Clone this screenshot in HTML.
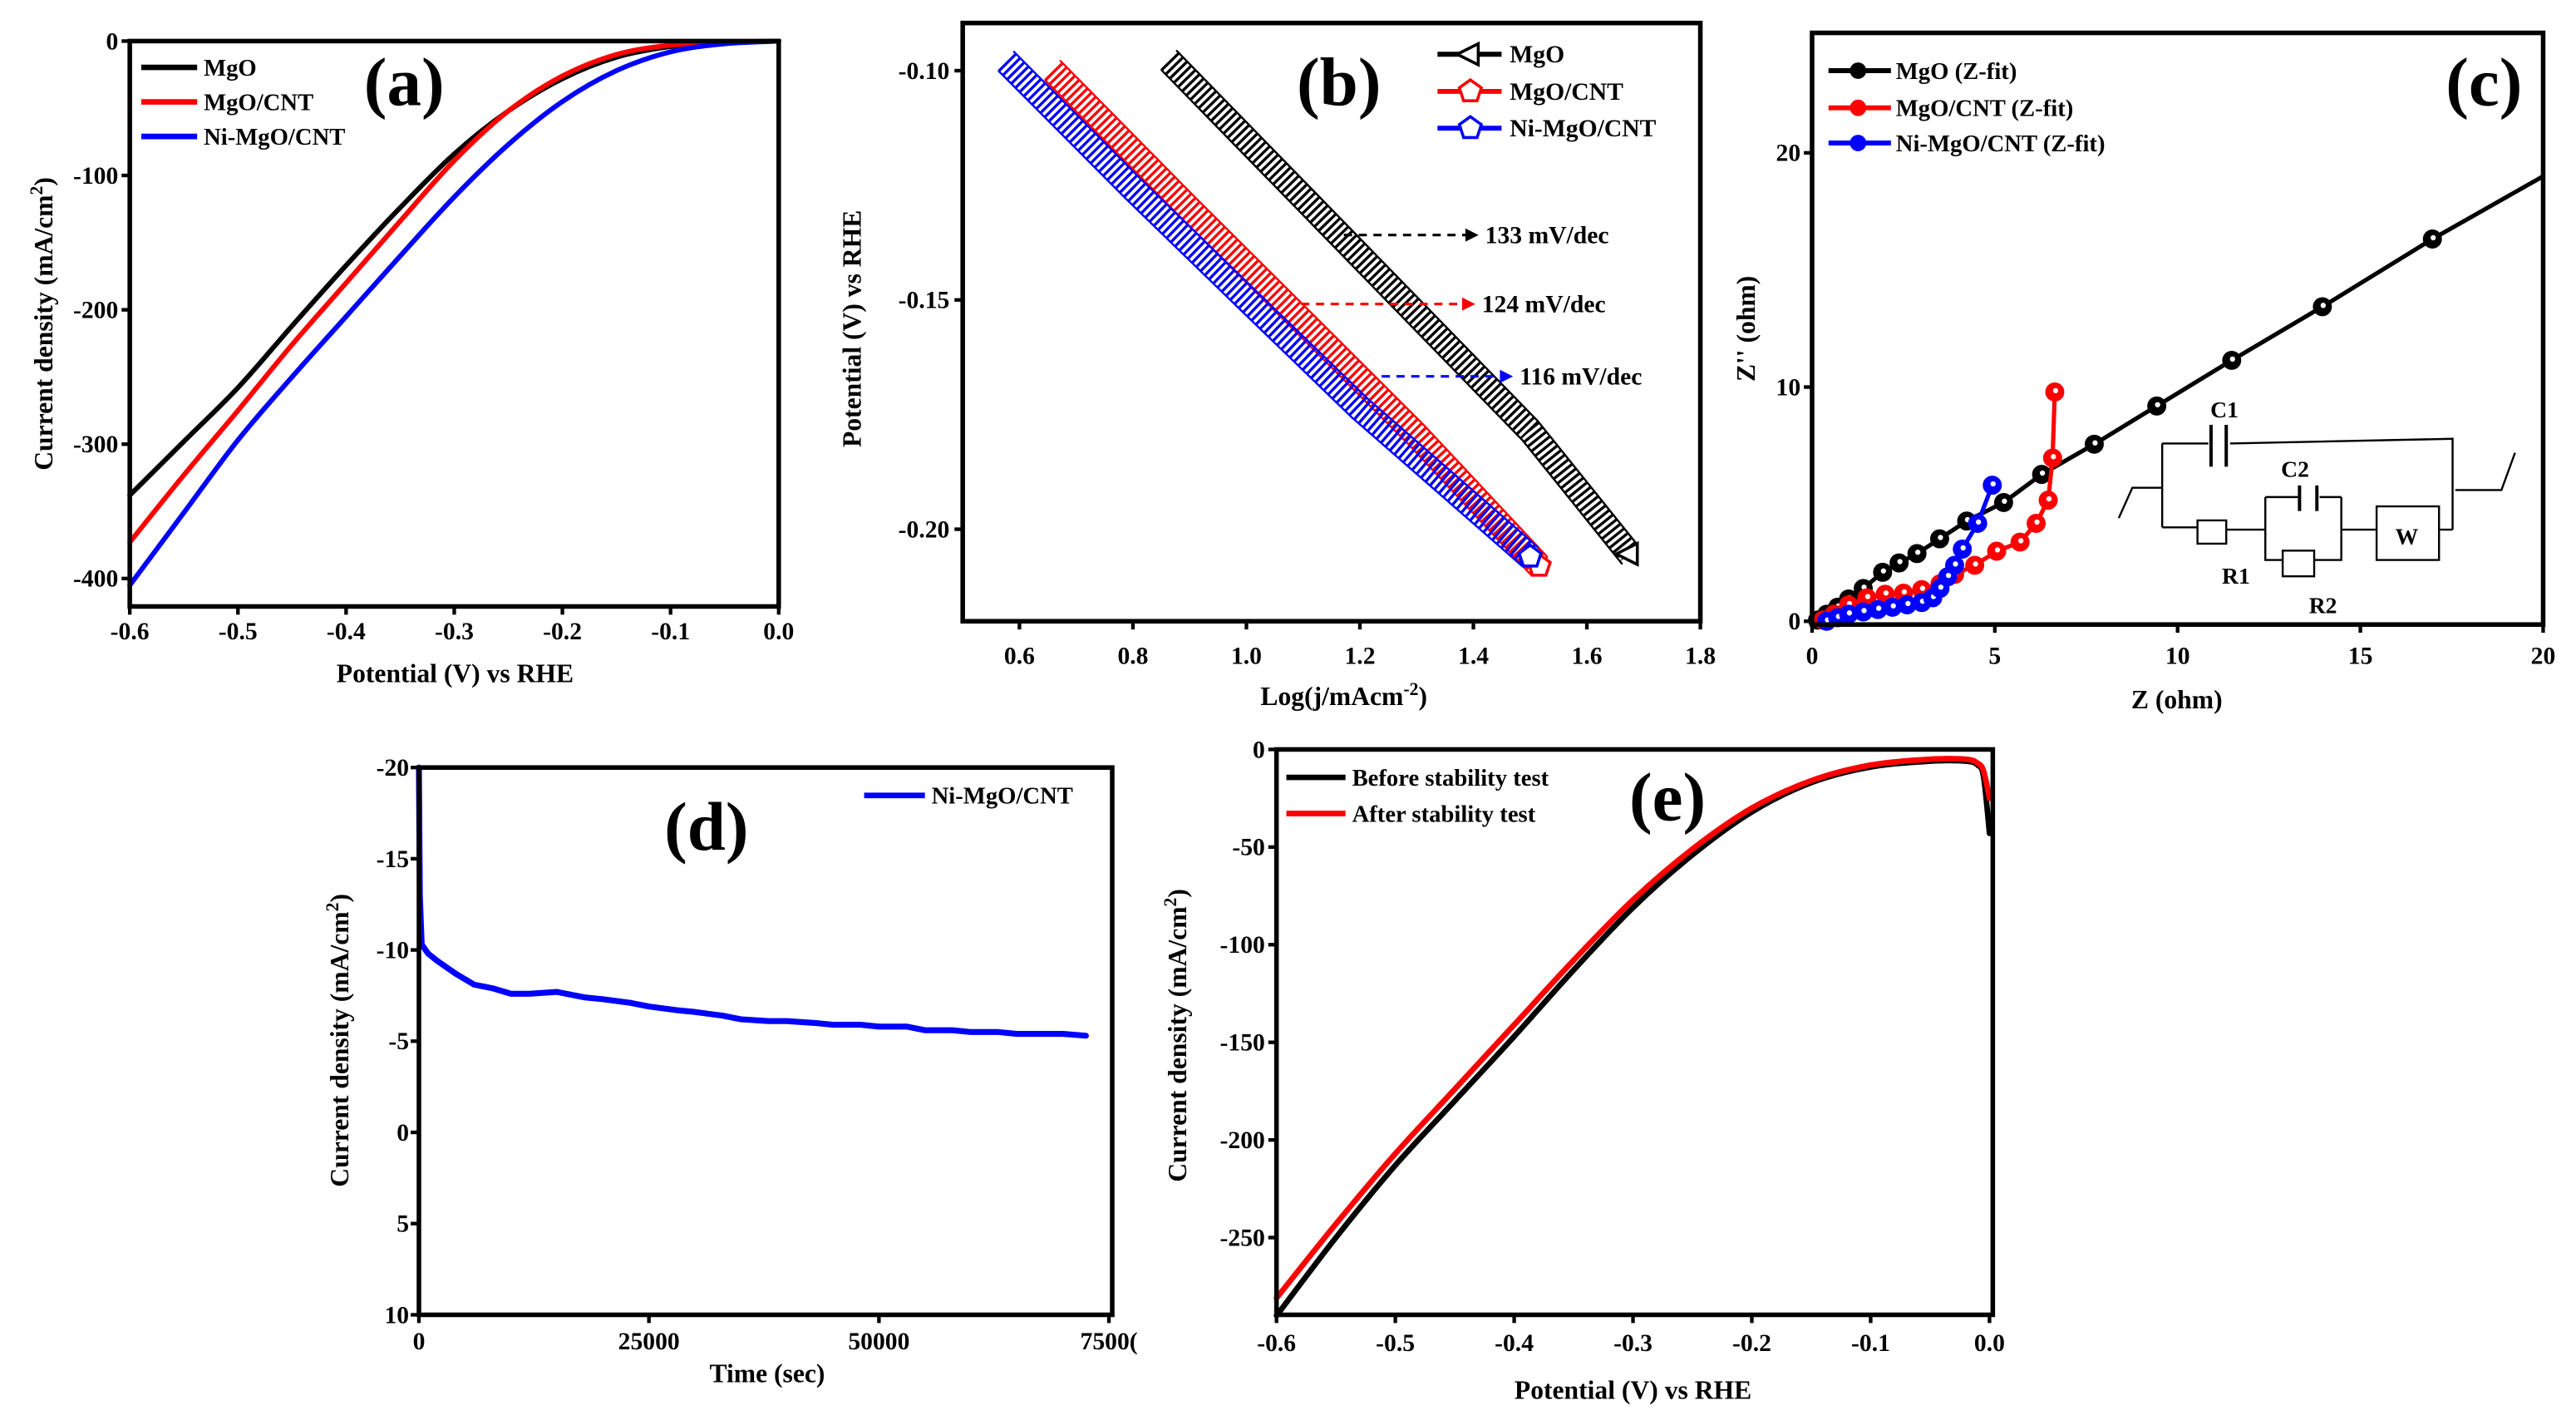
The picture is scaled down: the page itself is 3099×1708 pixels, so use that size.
<!DOCTYPE html>
<html><head><meta charset="utf-8"><title>Electrochemical panels</title>
<style>
html,body{margin:0;padding:0;background:#fff;}
svg{display:block;}
text{font-family:"Liberation Serif",serif;font-weight:bold;fill:#000;}
</style></head>
<body>
<svg id="fig" xmlns="http://www.w3.org/2000/svg" width="3099" height="1708" viewBox="0 0 1568 864" preserveAspectRatio="none"></svg>
<script>
// ---------- DATA ----------
const aPot = [-0.6,-0.55,-0.5,-0.45,-0.4,-0.35,-0.3,-0.25,-0.2,-0.15,-0.1,-0.05,0];
const aMgO = [-338,-298,-258,-212,-167,-124,-84,-52,-28,-12,-4,-1,0];
const aMgOCNT = [-373,-323,-275,-226,-180,-134,-89,-52,-26,-10,-3,-1,0];
const aNi = [-405,-351,-297,-250,-205,-160,-116,-77,-45,-22,-8,-2,0];
const aXTicks = [-0.6,-0.5,-0.4,-0.3,-0.2,-0.1,0.0];
const aYTicks = [0,-100,-200,-300,-400];
const bMgOX = [0.864,1.1,1.3,1.5,1.675];
const bMgOY = [-0.0978,-0.1277,-0.1531,-0.1785,-0.2054];
const bCNTX = [0.659,0.9,1.1,1.3,1.516];
const bCNTY = [-0.100,-0.1302,-0.1548,-0.1795,-0.208];
const bNiX = [0.577,0.8,1.0,1.2,1.50];
const bNiY = [-0.098,-0.1257,-0.1497,-0.1736,-0.206];
const bXTicks = [0.6,0.8,1.0,1.2,1.4,1.6,1.8];
const bYTicks = [-0.10,-0.15,-0.20];
const bSlopes = ["133 mV/dec","124 mV/dec","116 mV/dec"];
const cMgOX = [0.15,0.4,0.7,1.0,1.4,1.93,2.38,2.87,3.49,4.23,5.24,6.28,7.72,9.43,11.48,13.96,16.97,20];
const cMgOY = [0.05,0.3,0.6,0.95,1.4,2.09,2.49,2.89,3.52,4.28,5.07,6.27,7.56,9.19,11.14,13.43,16.32,19.0];
const cCNTX = [0.3,0.6,1.0,1.5,2.0,2.5,3.0,3.5,3.9,4.45,5.05,5.69,6.13,6.46,6.58,6.64];
const cCNTY = [0.05,0.3,0.7,1.0,1.15,1.2,1.35,1.6,2.0,2.39,2.99,3.38,4.18,5.17,6.97,9.79];
const cNiX = [0.4,0.7,1.0,1.4,1.8,2.2,2.6,3.0,3.3,3.5,3.71,3.9,4.11,4.53,4.93];
const cNiY = [0.0,0.15,0.3,0.4,0.5,0.6,0.7,0.8,1.0,1.4,1.9,2.39,3.08,4.18,5.81];
const cXTicks = [0,5,10,15,20];
const cYTicks = [0,10,20];
const dTime = [0,100,300,1000,2000,4000,6000,8000,10000,12000,15000,18000,20000,23000,25000,28000,30000,33000,35000,38000,40000,43000,45000,48000,50000,53000,55000,58000,60000,63000,65000,68000,70000,72500];
const dJ = [-20,-13,-10.3,-9.8,-9.4,-8.7,-8.1,-7.9,-7.6,-7.6,-7.7,-7.4,-7.3,-7.1,-6.9,-6.7,-6.6,-6.4,-6.2,-6.1,-6.1,-6.0,-5.9,-5.9,-5.8,-5.8,-5.6,-5.6,-5.5,-5.5,-5.4,-5.4,-5.4,-5.3];
const dXTicks = [0,25000,50000,75000];
const dXLabels = ["0","25000","50000","7500("];
const dYTicks = [-20,-15,-10,-5,0,5,10];
const ePot = [-0.6,-0.55,-0.5,-0.45,-0.4,-0.35,-0.3,-0.25,-0.2,-0.15,-0.1,-0.05,-0.02,-0.01,-0.005,0];
const eBefore = [-290,-250,-213,-180,-147,-113,-81,-54,-32,-17,-9,-6,-6,-8,-14,-43];
const eAfter = [-281,-243,-207,-174,-141,-108,-77,-51,-30,-16,-8,-5,-5,-7,-11,-25];
const eXTicks = [-0.6,-0.5,-0.4,-0.3,-0.2,-0.1,0.0];
const eYTicks = [0,-50,-100,-150,-200,-250];

// ---------- HELPERS ----------
const NS = "http://www.w3.org/2000/svg";
const svg = document.getElementById('fig');
function mk(tag, attrs, parent){
  const el = document.createElementNS(NS, tag);
  for (const k in attrs) el.setAttribute(k, attrs[k]);
  (parent||svg).appendChild(el);
  return el;
}
function lin(d0,d1,r0,r1){ return v => r0 + (v-d0)/(d1-d0)*(r1-r0); }
function txt(parent,x,y,str,size,anchor,name,rot){
  const el = mk('text',{x:x,y:y,'font-size':size,'text-anchor':anchor||'middle'},parent);
  el.textContent = str;
  if (rot) el.setAttribute('transform','rotate(-90 '+x+' '+y+')');
  
  
  return el;
}
function frame(g,x0,y0,x1,y1,name){
  const r = mk('rect',{x:x0,y:y0,width:x1-x0,height:y1-y0,fill:'none',stroke:'#000','stroke-width':2.8},g);
  
  
}
function xticks(g,ticks,labels,sx,y,labY,name){
  ticks.forEach((t,i)=>{
    const l = mk('line',{x1:sx(t),x2:sx(t),y1:y,y2:y+5,stroke:'#000','stroke-width':2.2},g);
    
    
    txt(g,sx(t),labY,labels[i],15,'middle',name+'-label');
  });
}
function yticks(g,ticks,labels,sy,x,labX,name){
  ticks.forEach((t,i)=>{
    const l = mk('line',{x1:x-5,x2:x,y1:sy(t),y2:sy(t),stroke:'#000','stroke-width':2.2},g);
    
    
    txt(g,labX,sy(t)+5,labels[i],15,'end',name+'-label');
  });
}
function smoothD(P){
  let d = 'M'+P[0][0].toFixed(2)+','+P[0][1].toFixed(2);
  for(let i=0;i<P.length-1;i++){
    const p0=P[Math.max(0,i-1)],p1=P[i],p2=P[i+1],p3=P[Math.min(P.length-1,i+2)];
    const c1=[p1[0]+(p2[0]-p0[0])/6,p1[1]+(p2[1]-p0[1])/6];
    const c2=[p2[0]-(p3[0]-p1[0])/6,p2[1]-(p3[1]-p1[1])/6];
    d+=' C'+c1[0].toFixed(2)+','+c1[1].toFixed(2)+' '+c2[0].toFixed(2)+','+c2[1].toFixed(2)+' '+p2[0].toFixed(2)+','+p2[1].toFixed(2);
  }
  return d;
}
function poly(g,xs,ys,sx,sy,color,w,name,smooth){
  let p;
  if (smooth){
    const P = xs.map((x,i)=>[sx(x),sy(ys[i])]);
    p = mk('path',{d:smoothD(P),fill:'none',stroke:color,'stroke-width':w,'stroke-linejoin':'round','stroke-linecap':'round'},g);
  } else {
    const pts = xs.map((x,i)=>sx(x).toFixed(2)+','+sy(ys[i]).toFixed(2)).join(' ');
    p = mk('polyline',{points:pts,fill:'none',stroke:color,'stroke-width':w,'stroke-linejoin':'round','stroke-linecap':'round'},g);
  }
  
  
  return p;
}
function legLine(g,x0,x1,y,color,label,name){
  const l = mk('line',{x1:x0,x2:x1,y1:y,y2:y,stroke:color,'stroke-width':3.4},g);
  
  
  txt(g,x1+4,y+5,label,14.5,'start',name+'-text');
}
function fmt1(v){ return v===0 ? '0.0' : v.toFixed(1); }
function ylabelCD(g,x,y,name){
  const t = mk('text',{x:x,y:y,'font-size':16,'text-anchor':'middle',transform:'rotate(-90 '+x+' '+y+')'},g);
  
  
  t.appendChild(document.createTextNode('Current density (mA/cm'));
  const s = mk('tspan',{'font-size':11,'baseline-shift':'super'},t);
  s.textContent='2';
  t.appendChild(document.createTextNode(')'));
}

// ---------- PANEL A ----------
(function(){
  const g = mk('g',{});
  
  
  const sx = lin(-0.6,0,79,474), sy = lin(0,-400,25,352);
  poly(g,aPot,aMgO,sx,sy,'#000',3,'curve-mgo',true);
  poly(g,aPot,aMgOCNT,sx,sy,'#f00',3,'curve-mgo-cnt',true);
  poly(g,aPot,aNi,sx,sy,'#00f',3,'curve-ni-mgo-cnt',true);
  frame(g,79,25,474,369,'plot-frame-a');
  xticks(g,aXTicks,aXTicks.map(fmt1),sx,369,389,'x-tick-a');
  yticks(g,aYTicks,aYTicks.map(String),sy,79,72,'y-tick-a');
  txt(g,277,415,'Potential (V) vs RHE',16,'middle','x-axis-title-a');
  ylabelCD(g,32,197,'y-axis-title-a');
  legLine(g,86,120,41,'#000','MgO','legend-mgo');
  legLine(g,86,120,62,'#f00','MgO/CNT','legend-mgo-cnt');
  legLine(g,86,120,83,'#00f','Ni-MgO/CNT','legend-ni-mgo-cnt');
  txt(g,246,64,'(a)',42,'middle','panel-label-a');
})();

// ---------- PANEL B ----------
(function(){
  const g = mk('g',{});
  
  
  const sx = lin(0.5,1.8,586,1035), sy = lin(-0.10,-0.20,43,322);
  function band(xs,ys,color,name){
    const p = poly(g,xs,ys,sx,sy,color,15,name,false);
    p.setAttribute('stroke-dasharray','1.7 1.9');
    p.setAttribute('stroke-linecap','butt');
    const e1 = poly(g,xs,ys,sx,sy,color,1.2,name+'-edge',false);
    e1.setAttribute('transform','translate(4.6,-5.9)');
    const e2 = poly(g,xs,ys,sx,sy,color,1.2,name+'-edge2',false);
    e2.setAttribute('transform','translate(-4.6,5.9)');
  }
  band(bMgOX,bMgOY,'#000','tafel-mgo');
  band(bCNTX,bCNTY,'#f00','tafel-mgo-cnt');
  band(bNiX,bNiY,'#00f','tafel-ni-mgo-cnt');
  function pent(cx,cy,r,color,name){
    let pts=[];
    for(let k=0;k<5;k++){const a=-Math.PI/2+k*2*Math.PI/5;pts.push((cx+r*Math.cos(a)).toFixed(1)+','+(cy+r*Math.sin(a)).toFixed(1));}
    const p = mk('polygon',{points:pts.join(' '),fill:'#fff',stroke:color,'stroke-width':1.8},g);
    
    
  }
  function tri(cx,cy,r,color,name){
    const p = mk('polygon',{points:(cx-r)+','+cy+' '+(cx+r*0.6)+','+(cy-r*0.8)+' '+(cx+r*0.6)+','+(cy+r*0.8),fill:'#fff',stroke:color,'stroke-width':1.8},g);
    
    
  }
  tri(sx(bMgOX[bMgOX.length-1]),sy(bMgOY[bMgOY.length-1]),8,'#000','end-marker-mgo');
  pent(sx(bCNTX[bCNTX.length-1]),sy(bCNTY[bCNTY.length-1]),7,'#f00','end-marker-mgo-cnt');
  pent(sx(bNiX[bNiX.length-1]),sy(bNiY[bNiY.length-1]),7,'#00f','end-marker-ni-mgo-cnt');
  frame(g,586,14,1035,378,'plot-frame-b');
  xticks(g,bXTicks,bXTicks.map(fmt1),sx,378,404,'x-tick-b');
  yticks(g,bYTicks,bYTicks.map(v=>v.toFixed(2)),sy,586,578,'y-tick-b');
  const xt = mk('text',{x:818,y:429,'font-size':16,'text-anchor':'middle'},g);
  
  
  xt.appendChild(document.createTextNode('Log(j/mAcm'));
  const sp = mk('tspan',{'font-size':11,'baseline-shift':'super'},xt); sp.textContent='-2';
  xt.appendChild(document.createTextNode(')'));
  txt(g,524,200,'Potential (V) vs RHE',16,'middle','y-axis-title-b',true);
  const arrows = [[818,900,143,'#000'],[792,898,185,'#f00'],[841,921,229,'#00f']];
  arrows.forEach((a,i)=>{
    const l = mk('line',{x1:a[0],x2:a[1]-6,y1:a[2],y2:a[2],stroke:a[3],'stroke-width':1.6,'stroke-dasharray':'5 4'},g);
    
    
    const h = mk('polygon',{points:(a[1])+','+a[2]+' '+(a[1]-8)+','+(a[2]-4)+' '+(a[1]-8)+','+(a[2]+4),fill:a[3]},g);
    
    
    txt(g,a[1]+4,a[2]+5,bSlopes[i],15,'start','slope-label');
  });
  const ly=[33,55.6,78], lc=['#000','#f00','#00f'], lt=['MgO','MgO/CNT','Ni-MgO/CNT'];
  ly.forEach((y,i)=>{
    const l = mk('line',{x1:875,x2:914,y1:y,y2:y,stroke:lc[i],'stroke-width':3},g);
    
    
    if(i===0) tri(895,y,8,lc[i],'legend-marker-b'); else pent(895,y,7,lc[i],'legend-marker-b');
    txt(g,919,y+5,lt[i],15,'start','legend-text-b');
  });
  txt(g,815,64,'(b)',42,'middle','panel-label-b');
})();

// ---------- PANEL C ----------
(function(){
  const g = mk('g',{});
  
  
  const sx = lin(0,20,1103,1548), sy = lin(0,20,378,93);
  function series(xs,ys,color,name,skipLast){
    poly(g,xs,ys,sx,sy,color,2.6,name+'-line',false);
    xs.forEach((x,i)=>{
      if(skipLast && i===xs.length-1) return;
      const c = mk('circle',{cx:sx(x),cy:sy(ys[i]),r:5.3,fill:color,stroke:color,'stroke-width':1},g);
      
      
      const w = mk('circle',{cx:sx(x)+0.5,cy:sy(ys[i])-0.8,r:1.6,fill:'#fff'},g);
      
      
    });
  }
  series(cMgOX,cMgOY,'#000','nyquist-mgo',true);
  series(cCNTX,cCNTY,'#f00','nyquist-mgo-cnt',false);
  series(cNiX,cNiY,'#00f','nyquist-ni-mgo-cnt',false);
  frame(g,1103,20,1548,380,'plot-frame-c');
  xticks(g,cXTicks,cXTicks.map(String),sx,380,404,'x-tick-c');
  yticks(g,cYTicks,cYTicks.map(String),sy,1103,1096,'y-tick-c');
  txt(g,1325,431,'Z (ohm)',16,'middle','x-axis-title-c');
  txt(g,1068,200,"Z'' (ohm)",16,'middle','y-axis-title-c',true);
  const ly=[43,65.6,87], lc=['#000','#f00','#00f'], lt=['MgO (Z-fit)','MgO/CNT (Z-fit)','Ni-MgO/CNT (Z-fit)'];
  ly.forEach((y,i)=>{
    const l = mk('line',{x1:1113,x2:1151,y1:y,y2:y,stroke:lc[i],'stroke-width':3},g);
    
    
    const c = mk('circle',{cx:1131,cy:y,r:5,fill:lc[i]},g);
    
    
    txt(g,1154,y+5,lt[i],14.5,'start','legend-text-c');
  });
  txt(g,1512,64,'(c)',42,'middle','panel-label-c');
  const cg = mk('g',{transform:'translate(1051.8,0.4) scale(0.3304,0.2836)'},g);
  
  
  const wires = [
    'M720,1110 L745,1045 L800,1045','M800,950 L800,1130','M800,950 L885,950','M925,950 L1335,940 L1335,1135',
    'M800,1130 L865,1130','M918,1135 L990,1135','M990,1065 L1050,1065','M1090,1065 L1130,1065',
    'M990,1065 L990,1200 L1022,1200','M1080,1200 L1130,1200 L1130,1065','M1130,1135 L1195,1135',
    'M1310,1135 L1335,1135','M1340,1050 L1425,1050 L1450,970'
  ];
  wires.forEach(d=>{
    const p = mk('path',{d:d,fill:'none',stroke:'#000','stroke-width':2.4,'vector-effect':'non-scaling-stroke'},cg);
    
    
  });
  const plates = [[890,910,1000],[918,910,1000],[1053,1040,1095],[1085,1040,1095]];
  plates.forEach(pl=>{
    const p = mk('line',{x1:pl[0],x2:pl[0],y1:pl[1],y2:pl[2],stroke:'#000','stroke-width':4,'vector-effect':'non-scaling-stroke'},cg);
    
    
  });
  const boxes = [[865,1115,53,50],[1022,1180,58,55],[1195,1085,115,115]];
  boxes.forEach(b=>{
    const r = mk('rect',{x:b[0],y:b[1],width:b[2],height:b[3],fill:'#fff',stroke:'#000','stroke-width':2.4,'vector-effect':'non-scaling-stroke'},cg);
    
    
  });
  txt(g,1354,254,'C1',14,'middle','circuit-label-c1');
  txt(g,1397,290,'C2',14,'middle','circuit-label-c2');
  txt(g,1361,355,'R1',14,'middle','circuit-label-r1');
  txt(g,1414,373,'R2',14,'middle','circuit-label-r2');
  txt(g,1465,331,'W',14,'middle','circuit-label-w');
})();

// ---------- PANEL D ----------
(function(){
  const g = mk('g',{});
  
  
  const sx = lin(0,75000,255,675), sy = lin(-20,10,467,800);
  poly(g,dTime,dJ,sx,sy,'#00f',3.6,'curve-stability-ni-mgo-cnt',false);
  frame(g,255,467,677,800,'plot-frame-d');
  xticks(g,dXTicks,dXLabels,sx,800,821,'x-tick-d');
  yticks(g,dYTicks,dYTicks.map(String),sy,255,249,'y-tick-d');
  txt(g,467,841,'Time (sec)',16,'middle','x-axis-title-d');
  ylabelCD(g,212,633,'y-axis-title-d');
  legLine(g,526,563,484,'#00f','Ni-MgO/CNT','legend-d');
  txt(g,430,517,'(d)',42,'middle','panel-label-d');
})();

// ---------- PANEL E ----------
(function(){
  const g = mk('g',{});
  
  
  const sx = lin(-0.6,0,777,1211), sy = lin(0,-250,456,753);
  poly(g,ePot,eBefore,sx,sy,'#000',3.4,'curve-before-stability',true);
  poly(g,ePot,eAfter,sx,sy,'#f00',3.4,'curve-after-stability',true);
  frame(g,777,456,1213,800,'plot-frame-e');
  xticks(g,eXTicks,eXTicks.map(fmt1),sx,800,822,'x-tick-e');
  yticks(g,eYTicks,eYTicks.map(String),sy,777,770,'y-tick-e');
  txt(g,994,851,'Potential (V) vs RHE',16,'middle','x-axis-title-e');
  ylabelCD(g,722,630,'y-axis-title-e');
  legLine(g,783,819,473,'#000','Before stability test','legend-before');
  legLine(g,783,819,495,'#f00','After stability test','legend-after');
  txt(g,1015,499,'(e)',42,'middle','panel-label-e');
})();
</script>
</body></html>
